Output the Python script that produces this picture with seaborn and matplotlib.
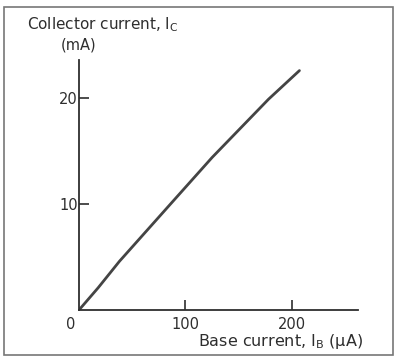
import matplotlib
matplotlib.use("Agg")
import matplotlib.pyplot as plt
import matplotlib.patches as mpatches
import matplotlib.transforms as mtransforms
import seaborn as sns
import pandas as pd

# Transistor transfer characteristic: collector current vs base current
base_current_uA = [0, 18, 38, 85, 125, 178, 207]
collector_current_mA = [0, 2.1, 4.6, 9.9, 14.4, 19.9, 22.6]
x_ticks = [0, 100, 200]
y_ticks = [10, 20]

sns.set_style("white")
plt.rcParams["font.family"] = ["DejaVu Sans"]

ink = "#2e2e2e"
df = pd.DataFrame({"ib": base_current_uA, "ic": collector_current_mA})

fig = plt.figure(figsize=(3.98, 3.59), dpi=100)
ax = fig.add_axes([79 / 398, 1 - 310 / 359, (358 - 79) / 398, (310 - 60) / 359])

sns.lineplot(data=df, x="ib", y="ic", ax=ax, color="#444444", linewidth=2.0)

ax.set_xlim(0, 262)
ax.set_ylim(0, 23.6)
ax.set_xticks(x_ticks)
ax.set_yticks(y_ticks)
ax.set_xticklabels([str(v) for v in x_ticks])
ax.set_yticklabels([str(v) for v in y_ticks])
ax.set_xlabel("")
ax.set_ylabel("")

for side in ("top", "right"):
    ax.spines[side].set_visible(False)
for side in ("left", "bottom"):
    ax.spines[side].set_color(ink)
    ax.spines[side].set_linewidth(1.3)

ax.tick_params(axis="both", direction="in", length=7, width=1.2, color=ink,
               labelsize=10.5, labelcolor=ink, left=True, bottom=True)
ax.tick_params(axis="y", pad=1)
ax.tick_params(axis="x", pad=5)
# the origin label sits to the lower left of the corner
origin = ax.xaxis.get_major_ticks()[0]
origin.tick1line.set_visible(False)
origin.label1.set_transform(origin.label1.get_transform() +
                            mtransforms.ScaledTranslation(-0.08, 0, fig.dpi_scale_trans))

fig.text(27 / 398, 1 - 29 / 359, r"Collector current, I$_\mathregular{C}$",
         fontsize=11, color=ink, ha="left", va="baseline")
fig.text(79 / 398, 1 - 50 / 359, "(mA)", fontsize=10.5, color=ink,
         ha="center", va="baseline")
fig.text(363 / 398, 1 - 346 / 359, r"Base current, I$_\mathregular{B}$ (μA)",
         fontsize=11.5, color=ink, ha="right", va="baseline")

# frame around the whole figure
frame = mpatches.Rectangle((4 / 398, 1 - 355 / 359), 389 / 398, 348 / 359,
                           transform=fig.transFigure, fill=False,
                           edgecolor="#777777", linewidth=1.2)
fig.patches.append(frame)

fig.savefig("out.png", dpi=100, facecolor="white")
